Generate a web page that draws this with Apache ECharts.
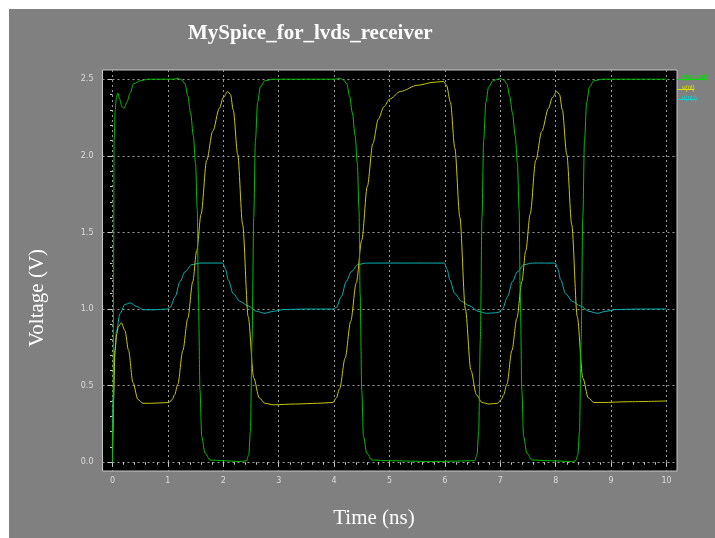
<!DOCTYPE html>
<html>
<head>
<meta charset="utf-8">
<style>
  html, body { margin: 0; padding: 0; background: #ffffff; }
  #chart { width: 715px; height: 538px; }
</style>
<script src="https://cdn.jsdelivr.net/npm/echarts@6/dist/echarts.min.js"></script>
</head>
<body>
<div id="chart"></div>
<script>
// Transient simulation of the LVDS receiver: time in ns, voltages in V.
const vOutput = [
  [0,0],[0.01,0.3],[0.02,1.2],[0.03,2.1],[0.05,2.3],[0.07,2.38],[0.095,2.41],[0.13,2.37],[0.17,2.32],[0.21,2.31],
  [0.26,2.35],[0.32,2.41],[0.38,2.47],[0.5,2.49],[0.65,2.5],[0.9,2.5],[1.1,2.5],[1.18,2.507],[1.25,2.495],
  [1.31,2.47],[1.36,2.39],[1.41,2.28],[1.46,2.13],[1.5,1.95],[1.53,1.65],[1.55,1.1],[1.58,0.47],[1.61,0.17],
  [1.67,0.06],[1.76,0.015],[2.0,0.01],[2.3,0.005],[2.42,0.01],[2.46,0.05],[2.49,0.2],[2.52,0.8],[2.55,1.6],
  [2.58,2.1],[2.62,2.35],[2.67,2.45],[2.75,2.49],[2.9,2.5],[3.5,2.5],[4.02,2.5],[4.1,2.507],[4.17,2.495],
  [4.23,2.47],[4.28,2.39],[4.33,2.28],[4.38,2.13],[4.42,1.95],[4.45,1.65],[4.47,1.1],[4.5,0.47],[4.53,0.17],
  [4.59,0.06],[4.68,0.015],[5.0,0.01],[5.8,0.005],[6.54,0.01],[6.58,0.05],[6.61,0.2],[6.64,0.8],[6.67,1.6],
  [6.7,2.1],[6.74,2.35],[6.79,2.45],[6.87,2.49],[6.95,2.5],[6.99,2.507],[7.06,2.495],[7.12,2.47],[7.17,2.39],
  [7.22,2.28],[7.27,2.13],[7.31,1.95],[7.34,1.65],[7.36,1.1],[7.39,0.47],[7.42,0.17],[7.48,0.06],[7.57,0.015],
  [7.9,0.01],[8.3,0.005],[8.36,0.01],[8.4,0.05],[8.43,0.2],[8.46,0.8],[8.49,1.6],[8.52,2.1],[8.56,2.35],
  [8.61,2.45],[8.69,2.49],[8.84,2.5],[9.5,2.5],[10,2.5]
];
const vNl = [
  [0,0.05],[0.01,0.2],[0.02,0.4],[0.045,0.73],[0.08,0.84],[0.105,0.885],[0.16,0.91],[0.225,0.86],[0.29,0.73],
  [0.37,0.52],[0.46,0.41],[0.55,0.385],[0.7,0.385],[0.9,0.388],[1.02,0.39],[1.08,0.41],[1.12,0.44],[1.18,0.51],
  [1.27,0.73],[1.36,0.94],[1.45,1.18],[1.52,1.38],[1.6,1.62],[1.7,1.97],[1.81,2.16],[1.93,2.31],[2.0,2.38],
  [2.08,2.42],[2.13,2.4],[2.18,2.3],[2.26,2.01],[2.35,1.55],[2.45,0.95],[2.55,0.55],[2.65,0.42],[2.75,0.385],
  [2.9,0.375],[3.3,0.38],[3.7,0.385],[3.98,0.39],[4.04,0.42],[4.1,0.48],[4.2,0.68],[4.3,0.92],[4.4,1.17],
  [4.5,1.45],[4.6,1.8],[4.7,2.08],[4.8,2.24],[4.9,2.32],[5.0,2.37],[5.2,2.42],[5.5,2.46],[5.8,2.48],
  [5.98,2.485],[6.03,2.46],[6.1,2.35],[6.18,2.05],[6.27,1.6],[6.37,1.0],[6.47,0.6],[6.57,0.44],[6.67,0.39],
  [6.8,0.38],[6.95,0.385],[7.02,0.41],[7.06,0.44],[7.12,0.51],[7.21,0.73],[7.3,0.94],[7.39,1.18],[7.46,1.38],
  [7.54,1.62],[7.64,1.97],[7.75,2.16],[7.87,2.31],[7.94,2.38],[8.02,2.42],[8.07,2.4],[8.12,2.3],[8.2,2.01],
  [8.29,1.55],[8.39,0.95],[8.49,0.55],[8.59,0.42],[8.69,0.39],[8.85,0.39],[9.3,0.395],[10,0.4]
];
const vNp = [
  [0,0.1],[0.01,0.4],[0.03,0.67],[0.075,0.86],[0.135,0.97],[0.225,1.03],[0.32,1.04],[0.44,1.016],[0.56,0.995],
  [0.75,0.995],[0.98,1.0],[1.04,1.01],[1.13,1.08],[1.22,1.18],[1.31,1.244],[1.43,1.29],[1.58,1.3],[1.8,1.3],
  [1.99,1.3],[2.04,1.26],[2.09,1.19],[2.18,1.1],[2.3,1.05],[2.45,1.02],[2.6,0.985],[2.75,0.972],[2.9,0.985],
  [3.1,0.997],[3.5,1.0],[3.98,1.0],[4.04,1.01],[4.13,1.08],[4.22,1.18],[4.31,1.244],[4.43,1.29],[4.58,1.3],
  [5.0,1.3],[5.5,1.3],[5.99,1.3],[6.04,1.26],[6.09,1.19],[6.18,1.1],[6.3,1.05],[6.45,1.02],[6.6,0.985],
  [6.75,0.972],[6.9,0.975],[6.98,0.98],[7.04,1.0],[7.13,1.08],[7.22,1.18],[7.31,1.244],[7.43,1.29],[7.58,1.3],
  [7.8,1.3],[7.99,1.3],[8.04,1.26],[8.09,1.19],[8.18,1.1],[8.3,1.05],[8.45,1.02],[8.6,0.985],[8.75,0.972],
  [8.9,0.985],[9.1,0.997],[9.5,1.0],[10,1.0]
];

const seriesNames = ['v(output)', 'v(nl)', 'v(np)'];
const traceColors = ['#00c000', '#c8c800', '#00b4b4'];
const legendColors = ['#00e000', '#e0e000', '#00d8d8'];

const timeTicks = [0, 1, 2, 3, 4, 5, 6, 7, 8, 9, 10];
const voltTicks = [0, 0.5, 1.0, 1.5, 2.0, 2.5];

// minor tick positions: every 0.2 ns and every 0.1 V between the labelled ticks
const timeMinor = [];
for (let i = 1; i < 50; i++) if (i % 5) timeMinor.push(+(i * 0.2).toFixed(1));
const voltMinor = [];
for (let i = 1; i < 25; i++) if (i % 5) voltMinor.push(+(i * 0.1).toFixed(1));

const X_MIN = -0.18, X_MAX = 10.19;
const Y_MIN = -0.057, Y_MAX = 2.56;

const axisGray = '#c8c8c8';
const labelStyle = { color: '#dcdcdc', fontSize: 8, fontFamily: 'DejaVu Sans' };

const chart = echarts.init(document.getElementById('chart'), null, { renderer: 'canvas' });

chart.setOption({
  backgroundColor: '#ffffff',
  animation: false,
  title: {
    text: 'MySpice_for_lvds_receiver',
    left: 183, top: 18,
    textStyle: { color: '#ffffff', fontFamily: 'Liberation Serif', fontWeight: 'bold', fontSize: 21 }
  },
  legend: {
    orient: 'vertical', left: 672, top: 69,
    icon: 'none', itemWidth: 0, itemHeight: 7, itemGap: 3.5,
    textStyle: { fontSize: 6.5, fontFamily: 'Liberation Sans' },
    data: seriesNames.map((n, i) => ({ name: n, textStyle: { color: legendColors[i] } }))
  },
  grid: {
    left: 102.5, right: 38, top: 70, bottom: 67,
    show: true, backgroundColor: '#000000', borderColor: axisGray, borderWidth: 1
  },
  xAxis: [
    {
      type: 'value', min: X_MIN, max: X_MAX, position: 'bottom',
      axisLine: { show: false },
      axisTick: { show: true, inside: false, length: 4, customValues: timeTicks, lineStyle: { color: axisGray } },
      axisLabel: { show: true, margin: 6, customValues: timeTicks, formatter: v => String(Math.round(v)), ...labelStyle },
      splitLine: { show: true, lineStyle: { color: '#9a9a9a', type: [2, 3], width: 1 } }
    },
    {
      type: 'value', min: X_MIN, max: X_MAX, position: 'bottom',
      axisLine: { show: false },
      axisTick: { show: true, inside: false, length: 2.5, customValues: timeMinor, lineStyle: { color: axisGray } },
      axisLabel: { show: false },
      splitLine: { show: false }
    }
  ],
  yAxis: [
    {
      type: 'value', min: Y_MIN, max: Y_MAX, position: 'left',
      axisLine: { show: false },
      axisTick: { show: true, inside: false, length: 5, customValues: voltTicks, lineStyle: { color: axisGray } },
      axisLabel: { show: true, margin: 9, customValues: voltTicks, formatter: v => v.toFixed(1), ...labelStyle },
      splitLine: { show: true, lineStyle: { color: '#9a9a9a', type: [2, 3], width: 1 } }
    },
    {
      type: 'value', min: Y_MIN, max: Y_MAX, position: 'left',
      axisLine: { show: false },
      axisTick: { show: true, inside: false, length: 2.5, customValues: voltMinor, lineStyle: { color: axisGray } },
      axisLabel: { show: false },
      splitLine: { show: false }
    }
  ],
  series: [vOutput, vNl, vNp].map((d, i) => ({
    name: seriesNames[i],
    type: 'line',
    xAxisIndex: 0, yAxisIndex: 0,
    data: d,
    showSymbol: false,
    smooth: 0.3,
    smoothMonotone: 'x',
    lineStyle: { color: traceColors[i], width: 1 },
    itemStyle: { color: traceColors[i] },
    z: 3 - i
  })),
  graphic: [
    { type: 'rect', left: 9, top: 9, shape: { width: 706, height: 529 }, style: { fill: '#808080' }, z: -10, silent: true },
    { type: 'text', x: 374, y: 518, style: { text: 'Time (ns)', fill: '#ffffff', font: '21px "Liberation Serif"', align: 'center', verticalAlign: 'middle' } },
    { type: 'text', x: 37, y: 298, rotation: Math.PI / 2, style: { text: 'Voltage (V)', fill: '#ffffff', font: '21px "Liberation Serif"', align: 'center', verticalAlign: 'middle' } },
    // underlines beneath the legend entries
    { type: 'line', shape: { x1: 677, y1: 79.5, x2: 706, y2: 79.5 }, style: { stroke: legendColors[0], lineWidth: 1 } },
    { type: 'line', shape: { x1: 677, y1: 89.5, x2: 694, y2: 89.5 }, style: { stroke: legendColors[1], lineWidth: 1 } },
    { type: 'line', shape: { x1: 677, y1: 99.5, x2: 696, y2: 99.5 }, style: { stroke: legendColors[2], lineWidth: 1 } }
  ]
});
</script>
</body>
</html>
